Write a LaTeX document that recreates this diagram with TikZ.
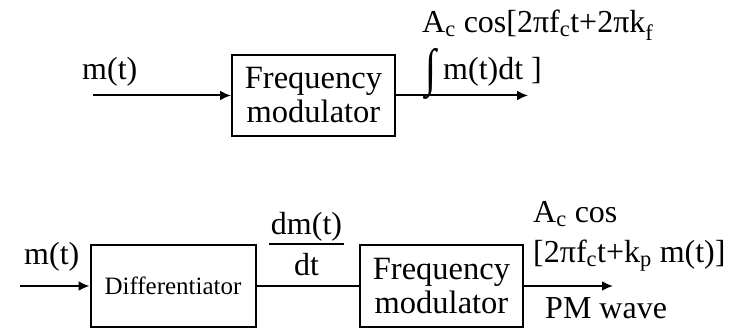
\documentclass[tikz,border=0pt]{standalone}
\usepackage{fontspec}
\setmainfont{Liberation Serif}
\usepackage{tikz}
\usetikzlibrary{arrows.meta,positioning}
\tikzset{
  blk/.style={ draw, line width=2pt, minimum width=163pt, minimum height=81pt, align=center, font=\fontsize{32.5}{34}\selectfont }
}
\tikzset{
  lbl/.style={ inner sep=0pt, anchor=base west, font=\fontsize{32}{34}\selectfont }
}
\tikzset{
  sig/.style={ line width=2pt, -{Latex[length=11pt,width=10pt]} }
}

\begin{document}
\begin{tikzpicture}[x=1pt,y=1pt]
  \useasboundingbox (0,0) rectangle (738,329);

  % FM
  \node[blk] (FM1) at (313.5, 233.5) {Frequency\\modulator};
  \coordinate (in1) at (93, 233.5);
  \coordinate (out1) at (528, 233.5);
  \node[lbl] (m1) at (82, 249) {m(t)};
  \node[lbl] (fm1a) at (422, 296) {A\textsubscript{c} cos[2πf\textsubscript{c}t+2πk\textsubscript{f}};
  \node[lbl, font=\fontsize{40}{40}\selectfont] (int1) at (425, 243) {\scalebox{1}[1.3]{∫}};
  \node[lbl] (fm1b) at (443, 249) {m(t)dt ]};

  \draw[sig] (in1) -- (FM1);
  \draw[sig] (FM1) -- (out1);

  % PM via FM
  \node[blk, minimum width=165pt, minimum height=82pt, font=\fontsize{25}{28}\selectfont] (D) at (173, 43) {Differentiator};
  \node[blk] (FM2) at (441.5, 43) {Frequency\\modulator};
  \coordinate (in2) at (20, 43);
  \coordinate (out2) at (613, 43);
  \node[lbl] (m2) at (24, 64) {m(t)};
  \node[lbl, anchor=base] (num) at (306.5, 94) {dm(t)};
  \node[lbl, anchor=base] (den) at (306.5, 53) {dt};
  \coordinate (barL) at (269, 85);
  \coordinate (barR) at (344, 85);
  \node[lbl] (pm1) at (533, 106) {A\textsubscript{c} cos};
  \node[lbl] (pm2) at (533, 66) {[2πf\textsubscript{c}t+k\textsubscript{p} m(t)]};
  \node[lbl] (pm3) at (545, 11) {PM wave};

  \draw[line width=2pt] (barL) -- (barR);
  \draw[sig] (in2) -- (D);
  \draw[line width=2pt] (D) -- (FM2);
  \draw[sig] (FM2) -- (out2);
\end{tikzpicture}
\end{document}
